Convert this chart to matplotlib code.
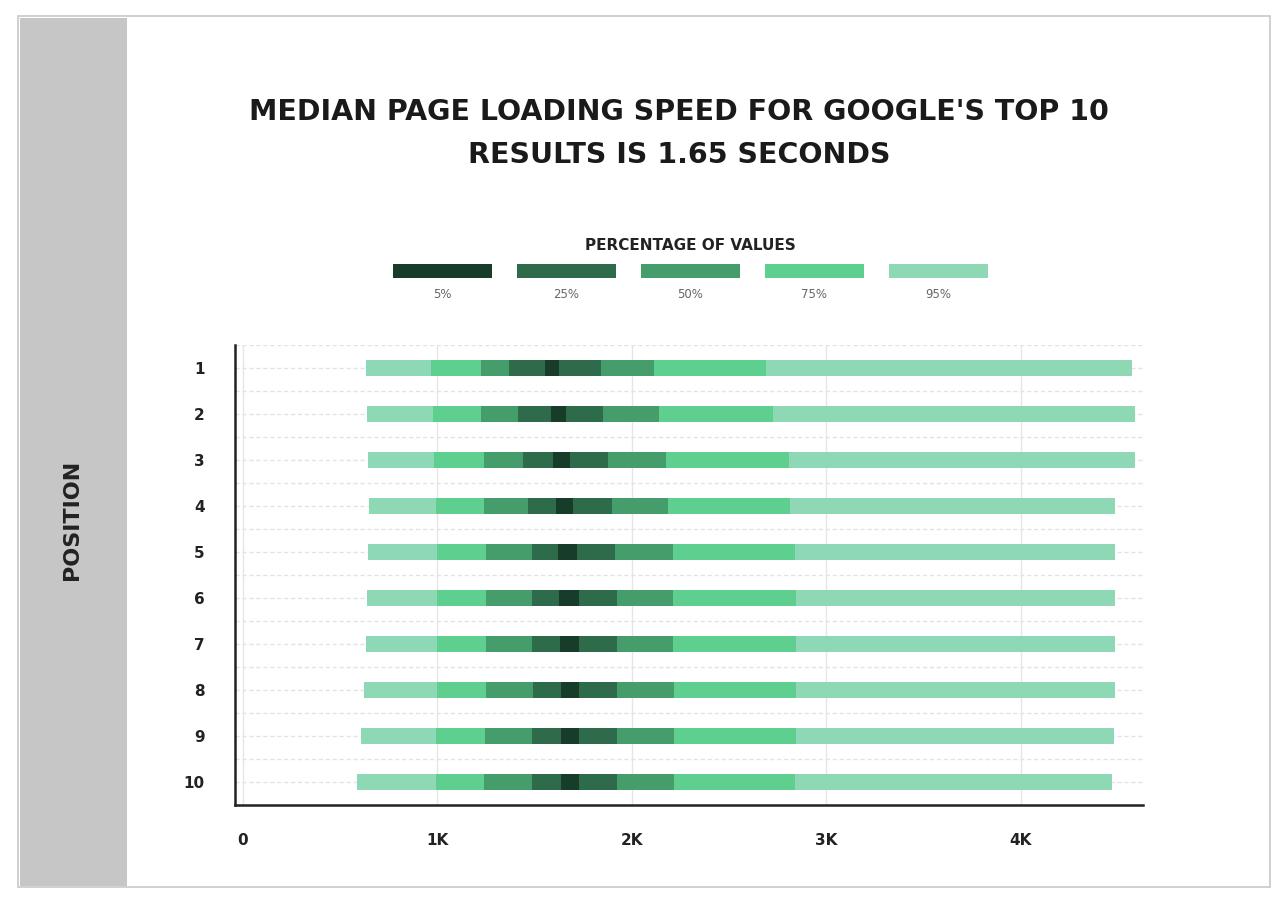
import matplotlib
matplotlib.use("Agg")
import matplotlib.pyplot as plt
from matplotlib.patches import Rectangle

positions = ["1", "2", "3", "4", "5", "6", "7", "8", "9", "10"]
# boundaries (ms): p2.5, p12.5, p25, p37.5, p47.5, p52.5, p62.5, p75, p87.5, p97.5
bounds = [
    [632, 967, 1224, 1368, 1553, 1625, 1841, 2113, 2689, 4571],
    [638, 977, 1224, 1414, 1583, 1661, 1851, 2139, 2725, 4591],
    [643, 982, 1239, 1439, 1594, 1681, 1876, 2175, 2807, 4591],
    [648, 992, 1239, 1465, 1609, 1697, 1897, 2185, 2812, 4488],
    [643, 997, 1249, 1486, 1619, 1717, 1912, 2211, 2838, 4488],
    [638, 997, 1249, 1486, 1625, 1727, 1923, 2211, 2843, 4488],
    [632, 997, 1249, 1486, 1630, 1727, 1923, 2211, 2843, 4488],
    [622, 997, 1249, 1491, 1635, 1727, 1923, 2216, 2843, 4488],
    [607, 992, 1244, 1486, 1635, 1727, 1923, 2216, 2843, 4483],
    [586, 992, 1239, 1486, 1635, 1727, 1923, 2216, 2838, 4473],
]
legend_labels = ["5%", "25%", "50%", "75%", "95%"]
colors = ["#173d2a", "#2e6b4a", "#469d6c", "#5ecf8e", "#8fd8b5"]
seg_color_idx = [4, 3, 2, 1, 0, 1, 2, 3, 4]
xticks = [0, 1000, 2000, 3000, 4000]
xticklabels = ["0", "1K", "2K", "3K", "4K"]

fig = plt.figure(figsize=(12.88, 9.14), dpi=100)
fig.patches.append(Rectangle((18/1288, 1-887/914), 1252/1288, 871/914, transform=fig.transFigure,
                             fill=False, edgecolor="#c8c8c8", lw=1.2))
fig.patches.append(Rectangle((20/1288, 1-886/914), 107/1288, 868/914, transform=fig.transFigure,
                             facecolor="#c6c6c6", edgecolor="none"))
fig.text(72/1288, 1-520/914, "POSITION", rotation=90, ha="center", va="center",
         fontsize=16, fontweight="semibold", color="#222222")

for yy, line in [(112, "MEDIAN PAGE LOADING SPEED FOR GOOGLE'S TOP 10"),
                 (155, "RESULTS IS 1.65 SECONDS")]:
    fig.text(679/1288, 1-yy/914, line, ha="center", va="center",
             fontsize=20.5, fontweight="semibold", color="#1a1a1a")
fig.text(690/1288, 1-246/914, "PERCENTAGE OF VALUES", ha="center", va="center",
         fontsize=11, fontweight="bold", color="#222222")
for i, (lab, c) in enumerate(zip(legend_labels, colors)):
    x0 = 393 + i * 124
    fig.patches.append(Rectangle((x0/1288, 1-278/914), 99/1288, 14/914, transform=fig.transFigure,
                                 facecolor=c, edgecolor="none"))
    fig.text((x0 + 49.5)/1288, 1-294/914, lab, ha="center", va="center", fontsize=8.5, color="#666666")

ax = fig.add_axes([235/1288, 1-805/914, 908/1288, 460/914])
ax.set_xlim(-41, 4630)
ax.set_ylim(10.5, 0.5)
h = 0.33
for r, b in enumerate(bounds):
    y = r + 1
    for s in range(9):
        ax.barh(y, b[s+1] - b[s], left=b[s], height=h, color=colors[seg_color_idx[s]], lw=0, zorder=3)

ax.set_xticks(xticks)
ax.set_xticklabels(xticklabels, fontsize=11, fontweight="bold", color="#222222")
ax.set_yticks(range(1, 11))
ax.set_yticklabels(positions, fontsize=11, fontweight="bold", color="#222222")
ax.set_yticks([i + 0.5 for i in range(0, 10)], minor=True)
ax.tick_params(axis="both", which="both", length=0, pad=22)
ax.tick_params(axis="x", pad=20)
ax.grid(axis="x", color="#e6e6e6", lw=1, zorder=0)
ax.grid(axis="y", which="both", color="#e3e3e3", lw=1, ls=(0, (3, 2)), zorder=0)
for sp in ["top", "right"]:
    ax.spines[sp].set_visible(False)
for sp in ["left", "bottom"]:
    ax.spines[sp].set_color("#222222")
    ax.spines[sp].set_linewidth(1.8)

fig.savefig("out.png", dpi=100)
